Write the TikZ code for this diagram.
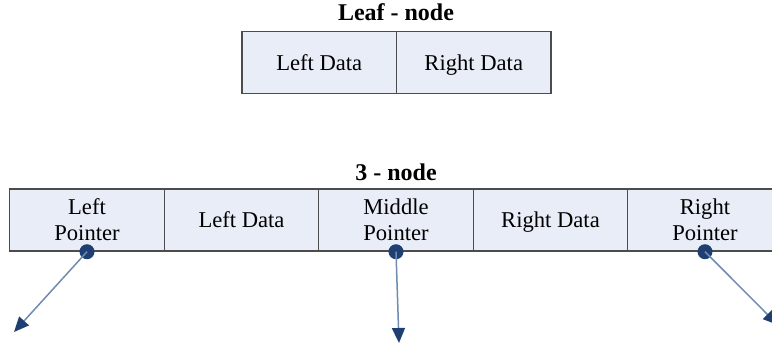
\documentclass[tikz,border=0pt]{standalone}
\usepackage{fontspec}
\setmainfont{Liberation Serif}
\usetikzlibrary{arrows.meta}
\definecolor{cellfill}{HTML}{E9EDF8}
\definecolor{ptrblue}{HTML}{1F3F73}
\definecolor{ptrline}{HTML}{6F8BB0}
\tikzset{
  cell/.style={draw=black!70,line width=.7pt,fill=cellfill,minimum width=77.25pt,
    minimum height=31pt,inner sep=0pt,align=center,font=\fontsize{11.3}{13}\selectfont},
  datacell/.style={cell,text height=7.5pt,text depth=0pt},
  title/.style={font=\fontsize{12}{14}\selectfont\bfseries},
  dot/.style={circle,fill=ptrblue,inner sep=0pt,minimum size=7.5pt},
  ptr/.style={draw=ptrline,line width=.75pt,-{Triangle[length=7.5pt,width=6.5pt,color=ptrblue]}}
}
\begin{document}
\begin{tikzpicture}[x=.5pt,y=-.5pt]
  \useasboundingbox (0,0) rectangle (772,349);

  %% leaf - node
  \node[title] (leaftitle) at (396,12) {Leaf - node};
  \node[datacell] (leafl) at (319.25,62.5) {Left Data};
  \node[datacell] (leafr) at (473.75,62.5) {Right Data};

  %% 3 - node
  \node[title] (threetitle) at (396,172) {3 - node};
  \node[cell] (lptr) at (87,220) {Left\\Pointer};
  \node[datacell] (ldata) at (241.5,220) {Left Data};
  \node[cell] (mptr) at (396,220) {Middle\\Pointer};
  \node[datacell] (rdata) at (550.5,220) {Right Data};
  \node[cell] (rptr) at (705,220) {Right\\Pointer};

  %% pointers
  \node[dot] (ldot) at (lptr.south) {};
  \node[dot] (mdot) at (mptr.south) {};
  \node[dot] (rdot) at (rptr.south) {};
  \coordinate (lend) at (14,332);
  \coordinate (mend) at (399,343);
  \coordinate (rend) at (778,325);
  \draw[ptr] (ldot.center) -- (lend);
  \draw[ptr] (mdot.center) -- (mend);
  \draw[ptr] (rdot.center) -- (rend);
\end{tikzpicture}
\end{document}
